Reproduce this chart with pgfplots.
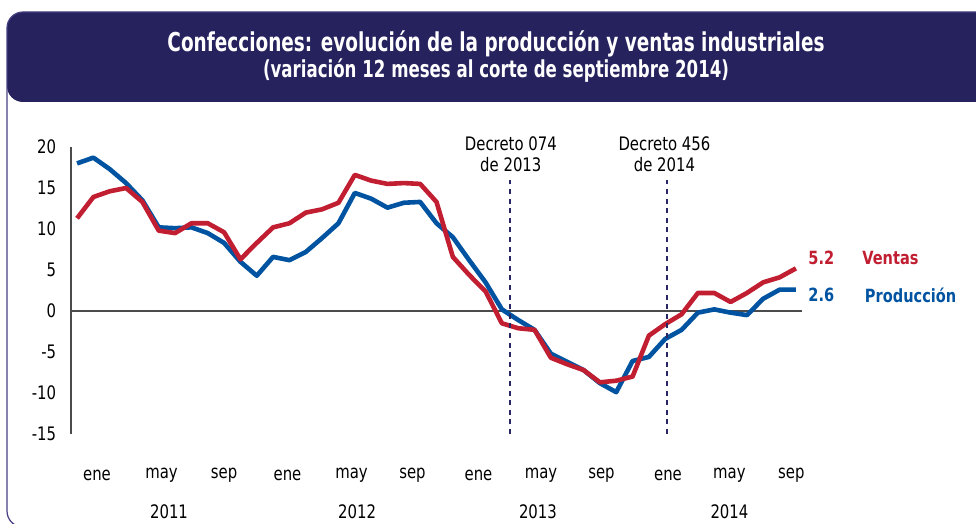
\documentclass[border=0pt]{standalone}
\usepackage{fontspec}
\setmainfont{DejaVu Sans}[FakeStretch=0.8]
\newfontfamily\titlefont{DejaVu Sans}[FakeStretch=0.71]
\usepackage{pgfplots}
\pgfplotsset{compat=1.18}
\definecolor{navy}{RGB}{38,34,94}
\definecolor{framec}{RGB}{70,64,130}
\definecolor{dashc}{RGB}{40,38,100}
\definecolor{ventas}{RGB}{193,30,50}
\definecolor{prod}{RGB}{0,83,160}
\definecolor{axisg}{RGB}{75,75,75}
\newcommand{\tf}{\fontsize{9.3}{11}\selectfont}
\begin{document}
\begin{tikzpicture}
\useasboundingbox (0,0) rectangle (488pt,262pt);
\clip (0,0) rectangle (488pt,262pt);
% banner and frame
\fill[navy, rounded corners=8pt] (3.5pt,211pt) -- (3.5pt,256pt) -- (496pt,256pt) -- (496pt,211pt) -- cycle;
\draw[framec, line width=0.6pt, rounded corners=8pt] (3.5pt,256pt) rectangle (496pt,-1.5pt);
\node[white, font=\titlefont\bfseries\fontsize{13}{15}\selectfont, anchor=base] at (248pt,236pt) {Confecciones: evolución de la producción y ventas industriales};
\node[white, font=\titlefont\bfseries\fontsize{11.7}{13}\selectfont, anchor=base] at (248pt,223pt) {(variación 12 meses al corte de septiembre 2014)};
\begin{axis}[
  at={(35.5pt,45pt)}, anchor=south west,
  scale only axis, width=365.5pt, height=143.5pt,
  xmin=-0.37, xmax=44.37, ymin=-15, ymax=20,
  clip=false,
  axis x line=bottom, axis y line=left,
  axis line style={-, draw=axisg, line width=0.75pt},
  x axis line style={draw=none},
  major tick length=0pt,
  ytick={-15,-10,-5,0,5,10,15,20},
  yticklabels={-15,-10,-5,0,5,10,15,20},
  yticklabel style={font=\tf, anchor=east, xshift=-3.9pt},
  xtick={1.22,5.17,9.0,12.88,16.8,20.53,24.57,28.4,32.1,36.17,39.93,43.72},
  xticklabels={ene,may,sep,ene,may,sep,ene,may,sep,ene,may,sep},
  xticklabel style={font=\tf, anchor=center, yshift=-20.5pt},
  extra y ticks={0}, extra y tick labels={},
  extra y tick style={grid=major, major grid style={draw=axisg, line width=0.65pt}},
]
\addplot[prod, line width=2.3pt, line join=round] coordinates {
(0,18.0)(1,18.7)(2,17.3)(3,15.6)(4,13.5)(5,10.2)(6,10.1)(7,10.2)(8,9.5)(9,8.3)
(10,6.0)(11,4.3)(12,6.6)(13,6.2)(14,7.2)(15,8.9)(16,10.7)(17,14.4)(18,13.7)(19,12.6)
(20,13.2)(21,13.3)(22,10.7)(23,9.0)(24,6.2)(25,3.5)(26,0.2)(27,-1.1)(28,-2.3)(29,-5.2)
(30,-6.2)(31,-7.2)(32,-8.8)(33,-9.9)(34,-6.1)(35,-5.6)(36,-3.4)(37,-2.3)(38,-0.2)(39,0.2)
(40,-0.2)(41,-0.5)(42,1.5)(43,2.6)(44,2.6)};
\addplot[ventas, line width=2.3pt, line join=round] coordinates {
(0,11.3)(1,13.9)(2,14.6)(3,15.0)(4,13.3)(5,9.8)(6,9.5)(7,10.7)(8,10.7)(9,9.6)
(10,6.3)(11,8.3)(12,10.2)(13,10.7)(14,12.0)(15,12.4)(16,13.2)(17,16.6)(18,15.9)(19,15.5)
(20,15.6)(21,15.5)(22,13.3)(23,6.6)(24,4.4)(25,2.4)(26,-1.5)(27,-2.1)(28,-2.3)(29,-5.7)
(30,-6.5)(31,-7.2)(32,-8.7)(33,-8.5)(34,-8.0)(35,-3.0)(36,-1.6)(37,-0.4)(38,2.2)(39,2.2)
(40,1.1)(41,2.2)(42,3.5)(43,4.1)(44,5.2)};
% decree lines
\draw[dashc, line width=1pt, dash pattern=on 2.5pt off 2.3pt] (axis cs:26.5,-15) -- (axis cs:26.5,16.0);
\draw[dashc, line width=1pt, dash pattern=on 2.5pt off 2.3pt] (axis cs:36.1,-15) -- (axis cs:36.1,16.0);
\node[font=\tf, align=center, inner sep=0pt] at (axis cs:26.55,19.1) {Decreto 074\\[-0.6pt]de 2013};
\node[font=\tf, align=center, inner sep=0pt] at (axis cs:35.95,19.1) {Decreto 456\\[-0.6pt]de 2014};
% end labels
\node[ventas, font=\bfseries\fontsize{9.1}{11}\selectfont, anchor=west, inner sep=0pt] at (axis cs:44.74,6.46) {5.2};
\node[ventas, font=\bfseries\fontsize{9.1}{11}\selectfont, anchor=west, inner sep=0pt] at (axis cs:48.04,6.46) {Ventas};
\node[prod, font=\bfseries\fontsize{9.1}{11}\selectfont, anchor=west, inner sep=0pt] at (axis cs:44.74,1.95) {2.6};
\node[prod, font=\bfseries\fontsize{9.1}{11}\selectfont, anchor=west, inner sep=0pt] at (axis cs:48.2,1.95) {Producción};
% years
\node[font=\tf, anchor=center] at (axis cs:5.63,-15) [yshift=-39pt] {2011};
\node[font=\tf, anchor=center] at (axis cs:17.14,-15) [yshift=-39pt] {2012};
\node[font=\tf, anchor=center] at (axis cs:28.21,-15) [yshift=-39pt] {2013};
\node[font=\tf, anchor=center] at (axis cs:39.93,-15) [yshift=-39pt] {2014};
\end{axis}
\end{tikzpicture}
\end{document}
